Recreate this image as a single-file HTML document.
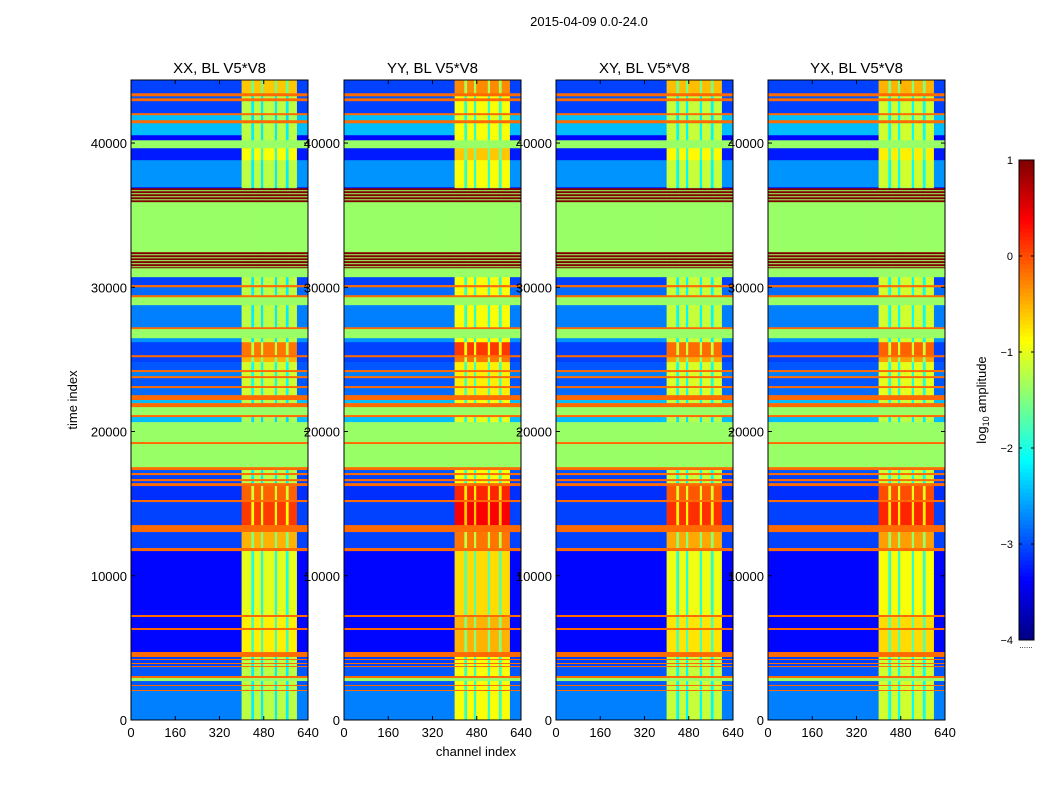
<!DOCTYPE html>
<html><head><meta charset="utf-8"><style>
body{margin:0;background:#fff;}
svg text{font-family:"Liberation Sans","DejaVu Sans",sans-serif;fill:#000;}
</style></head><body>
<svg id="fig" width="1050" height="800" xmlns="http://www.w3.org/2000/svg">
<rect width="1050" height="800" fill="#fff"/>
<text x="589" y="26" font-size="13" text-anchor="middle">2015-04-09 0.0-24.0</text>
<text x="77" y="400" font-size="13" text-anchor="middle" transform="rotate(-90 77 400)">time index</text>
<text x="476" y="756" font-size="13" text-anchor="middle">channel index</text>
<g id="panels"></g>
<g id="cbar"></g>
<text x="986" y="400" font-size="13" text-anchor="middle" transform="rotate(-90 986 400)">log<tspan font-size="9" dy="3">10</tspan><tspan dy="-3"> amplitude</tspan></text>
<text x="1026" y="648" font-size="8" text-anchor="middle" fill="#888">......</text>
</svg>
<script>
const panelTitles = ["XX, BL V5*V8","YY, BL V5*V8","XY, BL V5*V8","YX, BL V5*V8"];
const panelRfiOffset = [0, 0.3, 0.05, 0.1];
const xTicks = [0,160,320,480,640];
const yTicks = [0,10000,20000,30000,40000];
const cbarTicks = [1,0,-1,-2,-3,-4];
const channelEdges = [0,400,435,445,470,478,520,528,560,570,600,640];
const channelKind = ['b','r','s','r','s','r','s','r','s','r','b'];
const bgShift = -0.45, rfiShift = -0.2;
// [tStart, tEnd, kind, background, rfi]
const timeBands = [
[43450,44370,'n',-2.6,-0.4],[43240,43450,'o'],[43100,43240,'n',-2.5,-1.0],[42900,43100,'o'],
[42070,42900,'n',-2.6,-1.0],[41930,42070,'o'],[41580,41930,'n',-2.0,-1.1],[41370,41580,'o'],
[40540,41370,'n',-2.0,-1.0],[40190,40540,'n',-2.9,-1.0],[39640,40190,'g'],[38810,39640,'n',-2.8,-0.7],
[36940,38810,'n',-2.2,-1.0],[36870,36940,'n',-2.8,-1.2],
[36730,36870,'r'],[36660,36730,'g'],[36520,36660,'r'],[36450,36520,'g'],[36310,36450,'r'],[36240,36310,'g'],
[36100,36240,'r'],[36030,36100,'g'],[35900,36030,'r'],[35830,35900,'g'],
[32430,35830,'g'],
[32290,32430,'r'],[32220,32290,'g'],[32080,32220,'r'],[32010,32080,'g'],[31880,32010,'r'],[31810,31880,'g'],
[31670,31810,'r'],[31600,31670,'g'],[31460,31600,'r'],[31390,31460,'g'],[31320,31390,'r'],
[30700,31320,'g'],[30150,30700,'n',-2.6,-1.0],[30000,30150,'o'],[29450,30000,'n',-2.4,-1.0],[29310,29450,'o'],
[28760,29310,'g'],[27230,28760,'n',-2.3,-1.0],[27100,27230,'o'],[26470,27100,'g'],[26190,26470,'n',-2.2,-1.0],
[25290,26190,'n',-2.6,0.0],[25150,25290,'o'],[24810,25150,'n',-2.6,-0.3],[24260,24810,'n',-2.5,-0.9],
[24120,24260,'o'],[23840,24120,'n',-2.3,-0.9],[23700,23840,'o'],[23150,23700,'n',-2.5,-0.9],[23010,23150,'o'],
[22520,23010,'n',-2.4,-0.9],[22180,22520,'o'],[21970,22180,'n',-2.0,-1.0],[21690,21970,'o'],
[21140,21690,'g'],[21000,21140,'o'],[20650,21000,'n',-2.0,-1.1],[19270,20650,'g'],[19130,19270,'o'],
[17530,19130,'g'],[17330,17530,'o'],[17120,17330,'n',-2.5,-1.0],[16980,17120,'o'],[16700,16980,'n',-2.6,-1.0],
[16560,16700,'o'],[16420,16560,'n',-2.6,-1.0],[16220,16420,'o'],[15250,16220,'n',-2.7,0.1],[15110,15250,'o'],
[13510,15110,'n',-2.6,0.3],[13030,13510,'o'],[11920,13030,'n',-2.6,-0.3],[11710,11920,'o'],
[7280,11710,'n',-2.9,-0.8],[7140,7280,'o'],[6380,7140,'n',-2.9,-0.6],[6240,6380,'o'],[4710,6240,'n',-2.9,-0.6],
[4370,4710,'o'],[4230,4370,'n',-2.6,-1.0],[4160,4230,'o'],[3950,4160,'n',-2.6,-1.0],[3880,3950,'o'],
[3740,3880,'n',-2.6,-1.0],[3670,3740,'o'],[3050,3670,'n',-2.5,-1.0],[2910,3050,'o'],[2700,2910,'g'],
[2430,2700,'n',-2.5,-1.0],[2360,2430,'o'],[2080,2360,'n',-2.4,-1.0],[2010,2080,'o'],[0,2010,'n',-2.3,-1.0]
];
const panelLefts=[131,344,556,768], pw=177, plotTop=80, plotBottom=720, tMax=44370, cMax=640;
const vmin=-4, vmax=1;
const NS="http://www.w3.org/2000/svg";
function jet(v){let t=(v-vmin)/(vmax-vmin);t=Math.max(0,Math.min(1,t));
 const c=x=>Math.round(255*Math.max(0,Math.min(1,x)));
 return `rgb(${c(1.5-Math.abs(4*t-3))},${c(1.5-Math.abs(4*t-2))},${c(1.5-Math.abs(4*t-1))})`;}
function mk(tag,attrs,parent){const e=document.createElementNS(NS,tag);for(const k in attrs)e.setAttribute(k,attrs[k]);parent.appendChild(e);return e;}
const yScale=t=>plotBottom-(t/tMax)*(plotBottom-plotTop);
const root=document.getElementById('panels');
panelTitles.forEach((title,p)=>{
 const L=panelLefts[p]; const xScale=c=>L+c/cMax*pw;
 const g=mk('g',{},root);
 
 
 timeBands.forEach(b=>{
  const y0=yScale(b[1]), y1=yScale(b[0]);
  for(let i=0;i<channelKind.length;i++){
   let v;
   if(b[2]==='g')v=-1.375; else if(b[2]==='o')v=-0.15; else if(b[2]==='r')v=1.0;
   else{const k=channelKind[i];const rf=b[4]+panelRfiOffset[p]+rfiShift;
    v=k==='b'?b[3]+bgShift:(k==='r'?rf:rf-1.0);}
   const r=mk('rect',{x:xScale(channelEdges[i]),y:y0,width:xScale(channelEdges[i+1])-xScale(channelEdges[i])+0.3,height:y1-y0+0.3,fill:jet(v)},g);
   
   
  }
 });
 const fr=mk('rect',{x:L,y:plotTop,width:pw,height:plotBottom-plotTop,fill:'none',stroke:'#000','stroke-width':1},g);
 
 
 const tt=mk('text',{x:L+pw/2,y:73,'font-size':15,'text-anchor':'middle'},g);tt.textContent=title;
 
 
 xTicks.forEach(c=>{const x=xScale(c);
  mk('line',{x1:x,x2:x,y1:plotBottom,y2:plotBottom-4,stroke:'#000'},g);mk('line',{x1:x,x2:x,y1:plotTop,y2:plotTop+4,stroke:'#000'},g);
  const t=mk('text',{x:x,y:737,'font-size':13,'text-anchor':'middle'},g);t.textContent=c;
  
  });
 yTicks.forEach(v=>{const y=yScale(v);
  mk('line',{x1:L,x2:L+4,y1:y,y2:y,stroke:'#000'},g);mk('line',{x1:L+pw,x2:L+pw-4,y1:y,y2:y,stroke:'#000'},g);
  const t=mk('text',{x:L-4,y:y+5,'font-size':13,'text-anchor':'end'},g);t.textContent=v;
  
  });
});
// colorbar
const cb=document.getElementById('cbar'); const cx=1019,cw=15,cTop=160,cBot=640;
const cbY=v=>cBot-(v-vmin)/(vmax-vmin)*(cBot-cTop);
for(let i=0;i<120;i++){const v0=vmin+(vmax-vmin)*i/120, v1=vmin+(vmax-vmin)*(i+1)/120;
 const r=mk('rect',{x:cx,y:cbY(v1),width:cw,height:cbY(v0)-cbY(v1)+0.5,fill:jet((v0+v1)/2)},cb);
 
 }
mk('rect',{x:cx,y:cTop,width:cw,height:cBot-cTop,fill:'none',stroke:'#000'},cb);
cbarTicks.forEach(v=>{const y=cbY(v);
 mk('line',{x1:cx,x2:cx+3,y1:y,y2:y,stroke:'#000'},cb);mk('line',{x1:cx+cw,x2:cx+cw-3,y1:y,y2:y,stroke:'#000'},cb);
 const t=mk('text',{x:1013,y:y+4,'font-size':11,'text-anchor':'end'},cb);t.textContent=v<0?'\u2212'+(-v):v;
 
 });
</script>
</body></html>
